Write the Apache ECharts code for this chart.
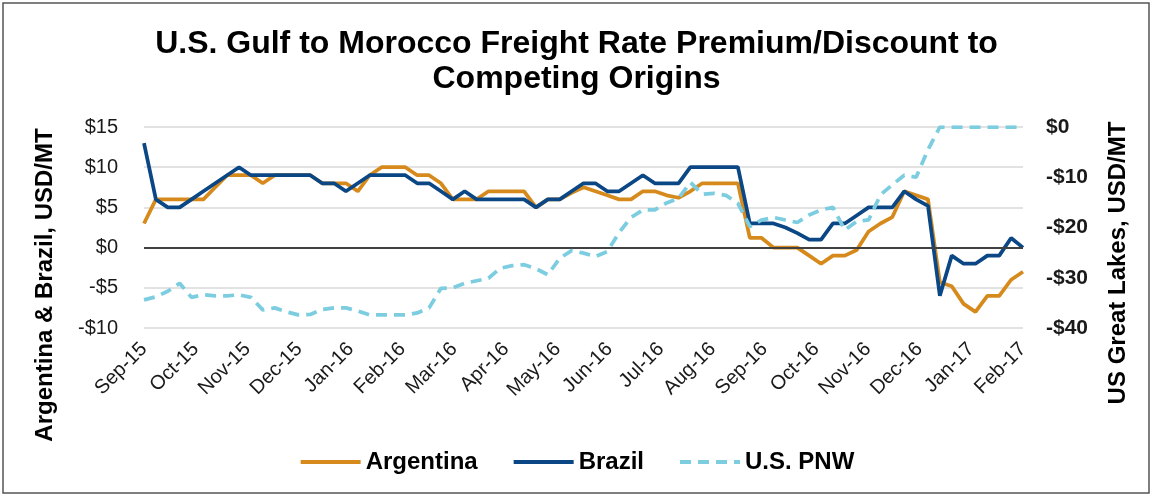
<!DOCTYPE html>
<html>
<head>
<meta charset="utf-8">
<title>U.S. Gulf to Morocco Freight Rate Premium/Discount</title>
<script src="https://cdn.jsdelivr.net/npm/echarts@6/dist/echarts.min.js"></script>
<style>
  html, body { margin: 0; padding: 0; background: #fff; }
  #chart { width: 1153px; height: 497px; }
</style>
</head>
<body>
<div id="chart"></div>
<script>
// month labels shown along the x axis (weekly data, Sep-15 .. Feb-17)
const monthLabels = ['Sep-15', 'Oct-15', 'Nov-15', 'Dec-15', 'Jan-16', 'Feb-16', 'Mar-16', 'Apr-16', 'May-16',
  'Jun-16', 'Jul-16', 'Aug-16', 'Sep-16', 'Oct-16', 'Nov-16', 'Dec-16', 'Jan-17', 'Feb-17']

// USD/MT, left axis
const argentina = [
  3, 6, 6, 6, 6, 6, 7.5, 9, 9, 9, 8, 9, 9, 9, 9, 8, 8, 8, 7, 9,
  10, 10, 10, 9, 9, 8, 6, 6, 6, 7, 7, 7, 7, 5, 6, 6, 6.8, 7.5, 7, 6.5,
  6, 6, 7, 7, 6.5, 6.2, 7, 8, 8, 8, 8, 1.2, 1.2, 0, 0, 0, -1, -2, -1, -1,
  -0.3, 2, 3, 3.8, 7, 6.5, 6, -4.3, -4.8, -7, -8, -6, -6, -4, -3
]
const brazil = [
  13, 6, 5, 5, 6, 7, 8, 9, 10, 9, 9, 9, 9, 9, 9, 8, 8, 7, 8, 9,
  9, 9, 9, 8, 8, 7, 6, 7, 6, 6, 6, 6, 6, 5, 6, 6, 7, 8, 8, 7,
  7, 8, 9, 8, 8, 8, 10, 10, 10, 10, 10, 3, 3, 3, 2.5, 1.8, 1, 1, 3, 3,
  4, 5, 5, 5, 7, 6, 5.2, -6, -1, -2, -2, -1, -1, 1.2, 0
]
// USD/MT, right axis
const usPnw = [
  -34.4, -33.8, -32.7, -31.1, -33.9, -33.4, -33.6, -33.6, -33.4, -33.9, -36.4, -36, -36.8, -37.4, -37.3, -36.3, -36, -36, -36.6, -37.4,
  -37.4, -37.4, -37.4, -37, -36, -32.1, -32, -31.1, -30.6, -30.1, -28.1, -27.6, -27.4, -28.2, -29.4, -26.1, -24.6, -25.1, -25.8, -24.8,
  -21, -18, -16.5, -16.5, -15.1, -14.2, -11, -13.4, -13.2, -13.6, -15.2, -19.8, -18.5, -18, -18.5, -19, -17.5, -16.5, -16, -20.5,
  -18.8, -18.5, -13.5, -11.5, -9.6, -10, -4.5, 0, 0, 0, 0, 0, 0, 0, 0
]

const FONT = '"Liberation Sans", Arial, sans-serif'
const lastIdx = brazil.length - 1
const step = lastIdx / (monthLabels.length - 1)

function toPoints (arr) {
  return arr.map((v, i) => [i, v])
}

function dollar (v) {
  return v < 0 ? '-$' + Math.abs(v) : '$' + v
}

const chart = echarts.init(document.getElementById('chart'))
const option = {
  animation: false,
  textStyle: { fontFamily: FONT },
  title: {
    text: 'U.S. Gulf to Morocco Freight Rate Premium/Discount to\nCompeting Origins',
    left: 'center',
    top: 22,
    textStyle: { fontSize: 32, fontWeight: 'bold', color: '#000', lineHeight: 35, fontFamily: FONT }
  },
  legend: {
    data: ['Argentina', 'Brazil', 'U.S. PNW'],
    bottom: 18,
    left: 'center',
    itemWidth: 60,
    itemHeight: 14,
    itemGap: 34,
    itemStyle: { opacity: 0 },
    lineStyle: { width: 4 },
    textStyle: { fontSize: 24, fontWeight: 'bold', color: '#000', fontFamily: FONT }
  },
  grid: { left: 144, right: 130, top: 127, bottom: 169 },
  xAxis: {
    type: 'value',
    min: 0,
    max: lastIdx,
    interval: step,
    axisLine: { show: false },
    axisTick: { show: false },
    splitLine: { show: false },
    axisLabel: {
      rotate: 45,
      margin: 18,
      fontSize: 20,
      color: '#1a1a1a',
      showMinLabel: true,
      showMaxLabel: true,
      formatter: function (v) {
        return monthLabels[Math.round(v / step)] || ''
      }
    }
  },
  yAxis: [
    {
      type: 'value',
      min: -10,
      max: 15,
      interval: 5,
      axisLine: { show: false },
      axisTick: { show: false },
      axisLabel: { fontSize: 20, color: '#1a1a1a', margin: 26, formatter: dollar },
      splitLine: { lineStyle: { color: '#d9d9d9', width: 1.5 } }
    },
    {
      type: 'value',
      min: -40,
      max: 0,
      interval: 10,
      axisLine: { show: false },
      axisTick: { show: false },
      axisLabel: { fontSize: 21, fontWeight: 'bold', color: '#1a1a1a', margin: 23, formatter: dollar },
      splitLine: { show: false }
    }
  ],
  graphic: [
    {
      type: 'text',
      x: 45,
      y: 285,
      rotation: Math.PI / 2,
      style: {
        text: 'Argentina & Brazil, USD/MT',
        fontSize: 24,
        fontWeight: 'bold',
        fontFamily: FONT,
        fill: '#000',
        align: 'center',
        verticalAlign: 'middle'
      }
    },
    {
      type: 'text',
      x: 1118,
      y: 263,
      rotation: Math.PI / 2,
      style: {
        text: 'US Great Lakes, USD/MT',
        fontSize: 24,
        fontWeight: 'bold',
        fontFamily: FONT,
        fill: '#000',
        align: 'center',
        verticalAlign: 'middle'
      }
    },
    {
      type: 'rect',
      shape: { x: 3, y: 3, width: 1146, height: 490 },
      style: { fill: 'none', stroke: '#555', lineWidth: 1.5 },
      silent: true
    }
  ],
  series: [
    {
      // zero line, kept under the data lines
      name: 'zero',
      type: 'line',
      data: [],
      z: 1,
      silent: true,
      markLine: {
        symbol: 'none',
        silent: true,
        label: { show: false },
        lineStyle: { color: '#404040', width: 2, type: 'solid' },
        data: [{ yAxis: 0 }]
      }
    },
    {
      name: 'Argentina',
      type: 'line',
      data: toPoints(argentina),
      symbol: 'none',
      color: '#d68a1c',
      lineStyle: { width: 3.75, color: '#d68a1c' },
      z: 3
    },
    {
      name: 'Brazil',
      type: 'line',
      data: toPoints(brazil),
      symbol: 'none',
      color: '#0a4784',
      lineStyle: { width: 3.75, color: '#0a4784' },
      z: 4
    },
    {
      name: 'U.S. PNW',
      type: 'line',
      yAxisIndex: 1,
      data: toPoints(usPnw),
      symbol: 'none',
      color: '#7dcde0',
      lineStyle: { width: 3.75, color: '#7dcde0', type: [11, 7] },
      z: 5
    }
  ]
}
chart.setOption(option)
</script>
</body>
</html>
